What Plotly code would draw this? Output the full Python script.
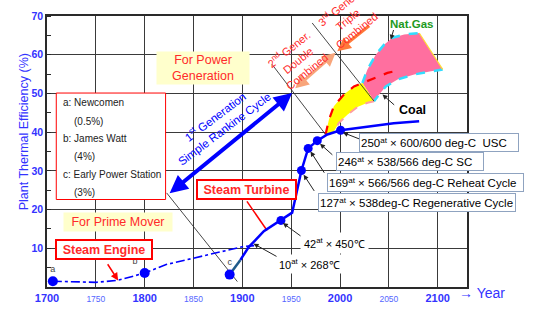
import plotly.graph_objects as go

# ---------------- data ----------------
engine_years = [1706, 1750, 1772, 1800, 1822, 1850, 1874, 1900, 1912]
engine_eff = [1.5, 1.2, 1.7, 3.6, 5.8, 7.5, 8.8, 10.4, 10.7]

milestone_years = [1706, 1800, 1887]
milestone_eff = [1.5, 3.6, 3.2]
milestone_labels = ["a", "b", "c"]

early_turbine_years = [1887, 1893, 1898]
early_turbine_eff = [3.2, 5.3, 7.0]

turbine_years = [1898, 1906.5, 1922, 1939.5, 1951, 1960.5, 1967.4, 1976.7, 1987, 2000.6, 2028, 2055, 2081]
turbine_eff = [7.0, 10.3, 14.4, 17.2, 19.2, 30.1, 35.8, 37.8, 39.4, 40.5, 41.5, 42.3, 42.8]

turbine_dot_years = [1939.5, 1960.5, 1967.4, 1976.7, 2000.6]
turbine_dot_eff = [17.2, 30.1, 35.8, 37.8, 40.5]

coal_x = [1985.2, 1988.6, 1993.7, 2004.0, 2014.3, 2022.9, 2034.8, 2028.1, 2017.8, 2007.5, 1998.9, 1993.7, 1988.6]
coal_y = [39.4, 43.2, 46.7, 49.7, 51.8, 52.7, 48.0, 47.6, 46.5, 44.5, 42.4, 40.2, 39.4]

coal_lower_x = [2034.8, 2028.1, 2017.8, 2007.5, 1998.9, 1993.7, 1988.6]
coal_lower_y = [48.0, 47.6, 46.5, 44.5, 42.4, 40.2, 39.4]

red_dash_x = [1985.2, 1988.6, 1993.7, 2004.0, 2014.3, 2022.9, 2034.8, 2048.6, 2055.4]
red_dash_y = [39.4, 43.2, 46.7, 49.7, 51.8, 52.7, 54.0, 55.3, 55.7]

gas_x = [2022.9, 2028.1, 2036.6, 2045.1, 2053.7, 2065.7, 2081.1, 2105.1, 2093.1, 2075.9, 2058.9, 2046.9, 2040.0, 2034.8]
gas_y = [52.7, 56.2, 60.0, 62.6, 64.4, 65.2, 65.6, 56.2, 55.7, 54.9, 53.6, 51.8, 49.7, 48.0]
gas_upper_n = 7  # first 7 points form the upper edge

guide_lines = {
    "g1": ([1822.5, 1894.9], [24.3, 1.4]),
    "g2": ([1930.4, 1985.2], [57.5, 39.4]),
    "g3": ([1971.5, 2034.8], [68.2, 48.0]),
}
turbine_pointer_x = [1904.7, 1925.3]
turbine_pointer_y = [22.1, 14.6]

legend_box_x = [1709.5, 1821.4]
legend_box_y = [22.6, 50.1]

x_range = [1700, 2130]
y_range = [0, 70]
x_tick_vals = [1700, 1750, 1800, 1850, 1900, 1950, 2000, 2050, 2100]
y_tick_vals = [10, 20, 30, 40, 50, 60, 70]

BLUE = "#0000ff"
LBLUE = "#3333ff"
RED = "#ff2a2a"
GRID = "#3a3a3a"
FONT = "Arial, Liberation Sans, sans-serif"

fig = go.Figure()

# legend box (white filled rectangle)
fig.add_trace(go.Scatter(x=[legend_box_x[0], legend_box_x[1], legend_box_x[1], legend_box_x[0], legend_box_x[0]],
                         y=[legend_box_y[0], legend_box_y[0], legend_box_y[1], legend_box_y[1], legend_box_y[0]],
                         fill="toself", fillcolor="white", mode="lines",
                         line=dict(color="#ff0000", width=1)))

# gas region
fig.add_trace(go.Scatter(x=gas_x + [gas_x[0]], y=gas_y + [gas_y[0]], fill="toself",
                         fillcolor="#ff6f9f", line=dict(width=0), mode="lines", hoverinfo="skip"))
fig.add_trace(go.Scatter(x=gas_x[:gas_upper_n], y=gas_y[:gas_upper_n], mode="lines",
                         line=dict(color="#33ddff", width=2.5, dash="dash")))
fig.add_trace(go.Scatter(x=gas_x[gas_upper_n:], y=gas_y[gas_upper_n:], mode="lines",
                         line=dict(color="#33ddff", width=2.5, dash="dash")))
fig.add_trace(go.Scatter(x=gas_x[gas_upper_n - 1:gas_upper_n + 1], y=gas_y[gas_upper_n - 1:gas_upper_n + 1],
                         mode="lines", line=dict(color="#ffdd33", width=1.2)))
# coal region
fig.add_trace(go.Scatter(x=coal_x + [coal_x[0]], y=coal_y + [coal_y[0]], fill="toself",
                         fillcolor="#ffff00", line=dict(width=0), mode="lines"))
fig.add_trace(go.Scatter(x=coal_lower_x, y=coal_lower_y, mode="lines",
                         line=dict(color="#ff9f9f", width=2, dash="dash")))
fig.add_trace(go.Scatter(x=red_dash_x, y=red_dash_y, mode="lines",
                         line=dict(color="#ff0000", width=2.2, dash="dash")))

# guide lines
for gx, gy in guide_lines.values():
    fig.add_trace(go.Scatter(x=gx, y=gy, mode="lines", line=dict(color="#333333", width=0.9)))
fig.add_trace(go.Scatter(x=turbine_pointer_x, y=turbine_pointer_y, mode="lines",
                         line=dict(color="#ff0000", width=1.5)))

# steam engine
fig.add_trace(go.Scatter(x=engine_years, y=engine_eff, mode="lines",
                         line=dict(color=BLUE, width=1.6, dash="dashdot")))
# steam turbine
fig.add_trace(go.Scatter(x=early_turbine_years, y=early_turbine_eff, mode="lines",
                         line=dict(color="#1f5a8a", width=2.5)))
fig.add_trace(go.Scatter(x=turbine_years, y=turbine_eff, mode="lines",
                         line=dict(color=BLUE, width=2.5)))
fig.add_trace(go.Scatter(x=turbine_dot_years, y=turbine_dot_eff, mode="markers",
                         marker=dict(color=BLUE, size=9)))
fig.add_trace(go.Scatter(x=milestone_years, y=milestone_eff, mode="markers+text",
                         marker=dict(color=BLUE, size=10),
                         text=milestone_labels, textposition=["top center", "top left", "top center"],
                         textfont=dict(size=9, color="#444444", family=FONT)))

ann = []


def arrow(x, y, ax, ay, color="#222222", width=1, head=2, size=1, side="end"):
    ann.append(dict(x=x, y=y, ax=ax, ay=ay, xref="x", yref="y", axref="x", ayref="y",
                    showarrow=True, arrowhead=head, startarrowhead=head, arrowsize=size,
                    startarrowsize=size, arrowwidth=width, arrowcolor=color, arrowside=side,
                    font=dict(size=1)))


def label(x, y, text, size=11, color="black", bold=False, bg=None, border=None, bw=1,
          width=None, height=None, angle=0, align="center", pad=1):
    d = dict(x=x, y=y, xref="x", yref="y", text=text, showarrow=False, textangle=angle,
             align=align, font=dict(size=size, color=color, family=FONT,
                                    weight="bold" if bold else "normal"),
             borderpad=pad)
    if bg:
        d["bgcolor"] = bg
    if border:
        d["bordercolor"] = border
        d["borderwidth"] = bw
    if width:
        d["width"] = width
    if height:
        d["height"] = height
    ann.append(d)


# big arrows
arrow(1951, 50.1, 1824, 23.9, color=BLUE, width=4, head=2, size=0.9, side="end+start")
arrow(1995.5, 60.5, 1952.6, 51.0, color="#f8a57a", width=3, head=2, size=0.9, side="end+start")
arrow(1997.2, 60.9, 2031.4, 67.8, color="#ff7a3a", width=3, head=2, size=0.9)
arrow(1772.8, 1.7, 1760.8, 6.4, color="#ff0000", width=1.5, head=2, size=1)
# pointers
arrow(1911.5, 11.2, 1940.7, 7.1)
arrow(1941.5, 16.5, 1962.3, 12.7)
arrow(2003.0, 39.9, 2021.2, 38.1)
arrow(1979.5, 37.0, 1993.7, 33.8)
arrow(1969.8, 35.0, 1985.2, 29.0)
arrow(1962.8, 29.0, 1974.9, 24.3)
arrow(2052.0, 63.9, 2055.4, 66.9)
arrow(2043.5, 49.7, 2057.0, 46.7)

# text boxes
label(1859.2, 56.5, "For Power<br>Generation", size=12.5, color=RED, bg="#ffffcc", width=90, height=30)
label(1773, 16.7, "For Prime Mover", size=12.5, color=RED, bg="#ffffcc", width=106, height=16)
label(1758.5, 9.8, "Steam Engine", size=12.5, color=RED, bold=True, bg="white", border="#ff0000", bw=2,
      width=92, height=15)
label(1904.7, 25.2, "Steam Turbine", size=12.5, color=RED, bold=True, bg="white", border="#ff0000", bw=2,
      width=95, height=15)
label(1876.3, 42.6, "1<sup>st</sup> Generation<br>Simple Rankine Cycle", size=11.5, color=BLUE, angle=-37)
label(1956.0, 58.7, "2<sup>nd</sup> Gener.<br>Double<br>Combined", size=11, color=RED, angle=-39)
label(2007.0, 69.3, "3<sup>rd</sup> Gener.<br>Triple<br>Combined", size=11, color=RED, angle=-39)
label(2073.4, 68.0, "Nat.Gas", size=11.5, color="#1e9a1e", bold=True)
label(2074.3, 45.8, "Coal", size=12.5, color="black", bold=True)

box_border = "#8fa3c0"
label(2101.6, 37.4, "250<sup>at</sup> × 600/600 deg-C  USC", size=11.5, bg="white", border=box_border,
      width=156, height=15, align="left")
label(2071.4, 32.3, "246<sup>at</sup> × 538/566 deg-C SC", size=11.5, bg="white", border=box_border,
      width=144, height=15, align="left")
label(2087.7, 27.0, "169<sup>at</sup> × 566/566 deg-C Reheat Cycle", size=11.5, bg="white",
      border=box_border, width=193, height=15, align="left")
label(2078.9, 21.8, "127<sup>at</sup> × 538deg-C Regenerative Cycle", size=11.5, bg="white",
      border=box_border, width=194, height=15, align="left")
label(1994.0, 11.4, "42<sup>at</sup> × 450℃", size=11, bg="white", pad=3)
label(1968.6, 6.0, "10<sup>at</sup> × 268℃", size=11, bg="white", pad=2)

# legend box text
legend_lines = ["a: Newcomen", "(0.5%)", "b: James Watt", "(4%)", "c: Early Power Station", "(3%)"]
legend_y = [47.6, 42.8, 38.4, 33.7, 29.0, 24.4]
legend_x = [1714.6, 1725.9, 1714.6, 1725.9, 1714.6, 1725.9]
for t, lx, ly in zip(legend_lines, legend_x, legend_y):
    ann.append(dict(x=lx, y=ly, xref="x", yref="y", text=t, showarrow=False, xanchor="left",
                    font=dict(size=10, color="#222222", family=FONT)))

# axis title and year label
ann.append(dict(x=-0.054, y=0.572, xref="paper", yref="paper", text="Plant Thermal Efficiency (%)",
                textangle=-90, showarrow=False, xanchor="center", yanchor="middle",
                font=dict(size=12.5, color=LBLUE, family=FONT)))
ann.append(dict(x=0.977, y=-0.022, xref="paper", yref="paper", text="→ Year", xanchor="left",
                yanchor="middle", showarrow=False, font=dict(size=14, color=LBLUE, family=FONT)))

x_tick_text = []
for v in x_tick_vals:
    if v % 100 == 0:
        x_tick_text.append(f"<b>{v}</b>")
    else:
        x_tick_text.append(f'<span style="font-size:8.5px;color:#5566ff">{v}</span>')

fig.update_layout(
    template="none",
    width=535, height=312,
    margin=dict(l=47, r=68, t=16, b=25),
    plot_bgcolor="white", paper_bgcolor="white",
    showlegend=False,
    annotations=ann,
    font=dict(family=FONT),
)
fig.update_xaxes(range=x_range, tickmode="array", tickvals=x_tick_vals, ticktext=x_tick_text,
                 tickfont=dict(size=11, color=LBLUE, family=FONT),
                 showgrid=True, gridcolor=GRID, gridwidth=1,
                 showline=True, linecolor="#2a2a2a", linewidth=1.5, mirror=True,
                 zeroline=False, ticks="")
fig.update_yaxes(range=y_range, tickmode="array", tickvals=y_tick_vals,
                 tickfont=dict(size=10.5, color=LBLUE, family=FONT, weight="bold"),
                 showgrid=True, gridcolor=GRID, gridwidth=1,
                 showline=True, linecolor="#2a2a2a", linewidth=1.5, mirror=True,
                 zeroline=False, ticks="",
                 minor=dict(dtick=5, ticks="inside", ticklen=4, tickcolor="#2a2a2a"))

fig.write_html("out.html")
